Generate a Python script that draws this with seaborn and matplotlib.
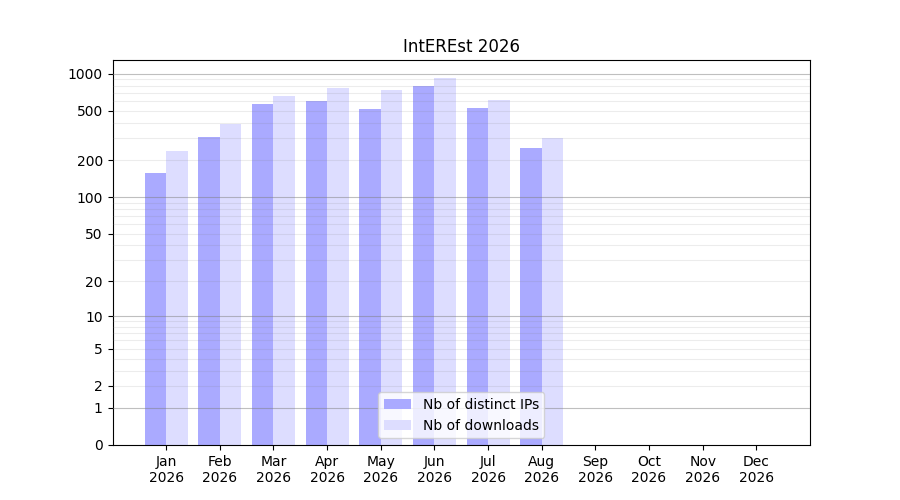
import numpy as np
import pandas as pd
import matplotlib
matplotlib.use("Agg")
import matplotlib.pyplot as plt
import seaborn as sns
from matplotlib.ticker import FixedLocator, NullLocator


# ---------------------------------------
# Data
# ---------------------------------------
months = ["Jan", "Feb", "Mar", "Apr", "May", "Jun",
          "Jul", "Aug", "Sep", "Oct", "Nov", "Dec"]
year = "2026"
ips = [156, 307, 568, 601, 518, 795, 528, 250]
downloads = [236, 391, 659, 766, 738, 923, 612, 301]

df = pd.DataFrame({
    "month": months[:len(ips)] * 2,
    "value": ips + downloads,
    "serie": ["Nb of distinct IPs"] * len(ips) + ["Nb of downloads"] * len(downloads),
})

# ---------------------------------------
# Plot
# ---------------------------------------
fig, ax = plt.subplots(figsize=(9, 5), dpi=100)

sns.barplot(data=df, x="month", y="value", hue="serie", order=months,
            palette=["#aaaaff", "#ddddff"], saturation=1, width=0.8, ax=ax)

# log(1 + x) scale
ax.set_yscale("function", functions=(lambda v: np.log10(1 + np.clip(v, 0, None)),
                                     lambda v: 10 ** v - 1))
ax.set_ylim(0, max(downloads) * 1.4)
ticks = [0, 1, 2, 5, 10, 20, 50, 100, 200, 500, 1000]
ax.yaxis.set_major_locator(FixedLocator(ticks))
ax.set_yticklabels([str(t) for t in ticks])
ax.yaxis.set_minor_locator(NullLocator())

# grid lines
for dec in [1, 10, 100, 1000]:
    ax.axhline(dec, color="gray", alpha=0.5, linewidth=0.8, zorder=3)
    for m in range(2, 10):
        if dec * m < max(downloads) * 1.4:
            ax.axhline(dec * m, color="gray", alpha=0.15, linewidth=0.8, zorder=3)

ax.set_xlim(-1, 12)
ax.set_xticks(range(12))
ax.set_xticklabels([f"{m}\n{year}" for m in months])
ax.set_xlabel("")
ax.set_ylabel("")
ax.set_title("IntEREst " + year)

sns.move_legend(ax, "lower center", title=None)

plt.savefig("out.png")
